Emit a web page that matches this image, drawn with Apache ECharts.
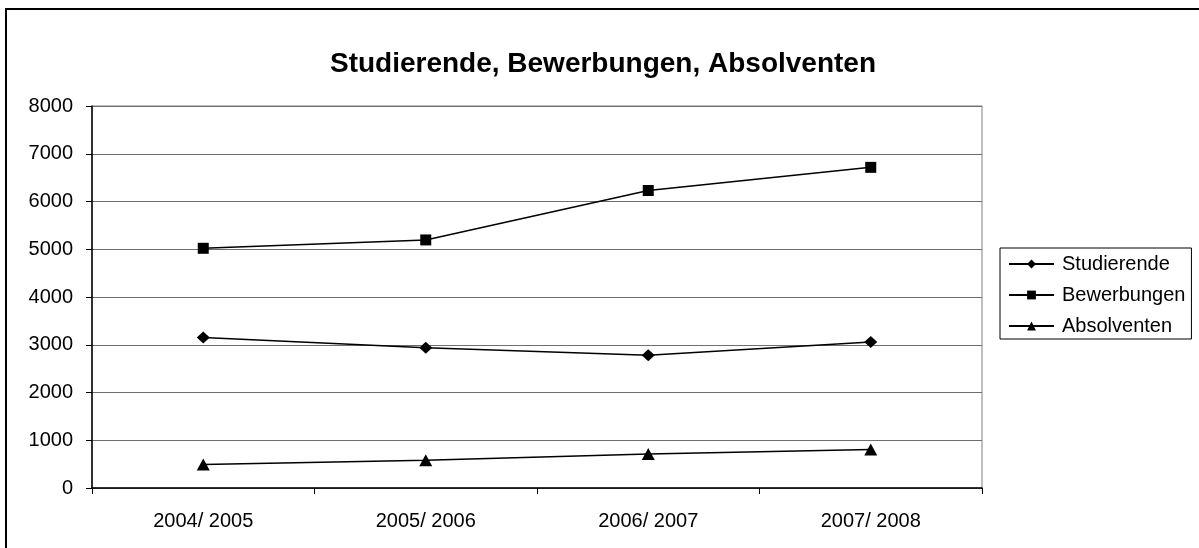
<!DOCTYPE html>
<html>
<head>
<meta charset="utf-8">
<script src="https://cdn.jsdelivr.net/npm/echarts@6/dist/echarts.min.js"></script>
<style>
html,body{margin:0;padding:0;background:#fff;}
#c{width:1199px;height:548px;}
</style>
</head>
<body>
<div id="c"></div>
<script>
var categories = ['2004/ 2005', '2005/ 2006', '2006/ 2007', '2007/ 2008'];
var studierende = [3150, 2935, 2780, 3060];
var bewerbungen = [5020, 5195, 6230, 6715];
var absolventen = [490, 580, 710, 805];
var yTicks = {min: 0, max: 8000, interval: 1000};

var font = '"Liberation Sans", Arial, sans-serif';
var chart = echarts.init(document.getElementById('c'), null, {renderer: 'canvas'});

function lineSeries(name, data, symbol, size) {
  return {
    name: name,
    type: 'line',
    data: data,
    symbol: symbol,
    symbolSize: size,
    showAllSymbol: true,
    lineStyle: {color: '#000', width: 1.5},
    itemStyle: {color: '#000', borderWidth: 0},
    emphasis: {disabled: true},
    animation: false
  };
}

chart.setOption({
  animation: false,
  backgroundColor: '#fff',
  title: {
    text: 'Studierende, Bewerbungen, Absolventen',
    left: 598,
    textAlign: 'center',
    top: 45,
    textStyle: {fontFamily: font, fontSize: 28, fontWeight: 'bold', color: '#000'}
  },
  graphic: [{
    type: 'rect',
    shape: {x: 6, y: 9, width: 1300, height: 700},
    style: {fill: 'none', stroke: '#000', lineWidth: 2},
    silent: true
  }],
  legend: {
    orient: 'vertical',
    left: 1000,
    top: 248,
    padding: [6, 6, 3, 8],
    itemGap: 11,
    itemWidth: 45,
    itemHeight: 11,
    borderColor: '#000',
    borderWidth: 1,
    textStyle: {fontFamily: font, fontSize: 20, color: '#000', padding: [0, 0, 0, 3]},
    data: ['Studierende', 'Bewerbungen', 'Absolventen']
  },
  grid: {
    left: 92, right: 217, top: 106, bottom: 60,
    show: true, borderColor: '#808080', borderWidth: 1,
    containLabel: false
  },
  xAxis: {
    type: 'category',
    data: categories,
    boundaryGap: true,
    axisLine: {lineStyle: {color: '#000', width: 1.5}},
    axisTick: {show: true, inside: false, length: 6, alignWithLabel: false, lineStyle: {color: '#000'}},
    axisLabel: {fontFamily: font, fontSize: 20, color: '#000', margin: 23}
  },
  yAxis: {
    type: 'value',
    min: yTicks.min,
    max: yTicks.max,
    interval: yTicks.interval,
    axisLine: {show: true, lineStyle: {color: '#000', width: 1.5}},
    axisTick: {show: true, inside: false, length: 6, lineStyle: {color: '#000'}},
    axisLabel: {fontFamily: font, fontSize: 20, color: '#000', margin: 19, formatter: function (v) { return String(v); }},
    splitLine: {show: true, lineStyle: {color: '#6e6e6e', width: 1}}
  },
  series: [
    lineSeries('Studierende', studierende, 'diamond', [13, 12]),
    lineSeries('Bewerbungen', bewerbungen, 'rect', [11, 11]),
    lineSeries('Absolventen', absolventen, 'triangle', [13, 12])
  ]
});
</script>
</body>
</html>
